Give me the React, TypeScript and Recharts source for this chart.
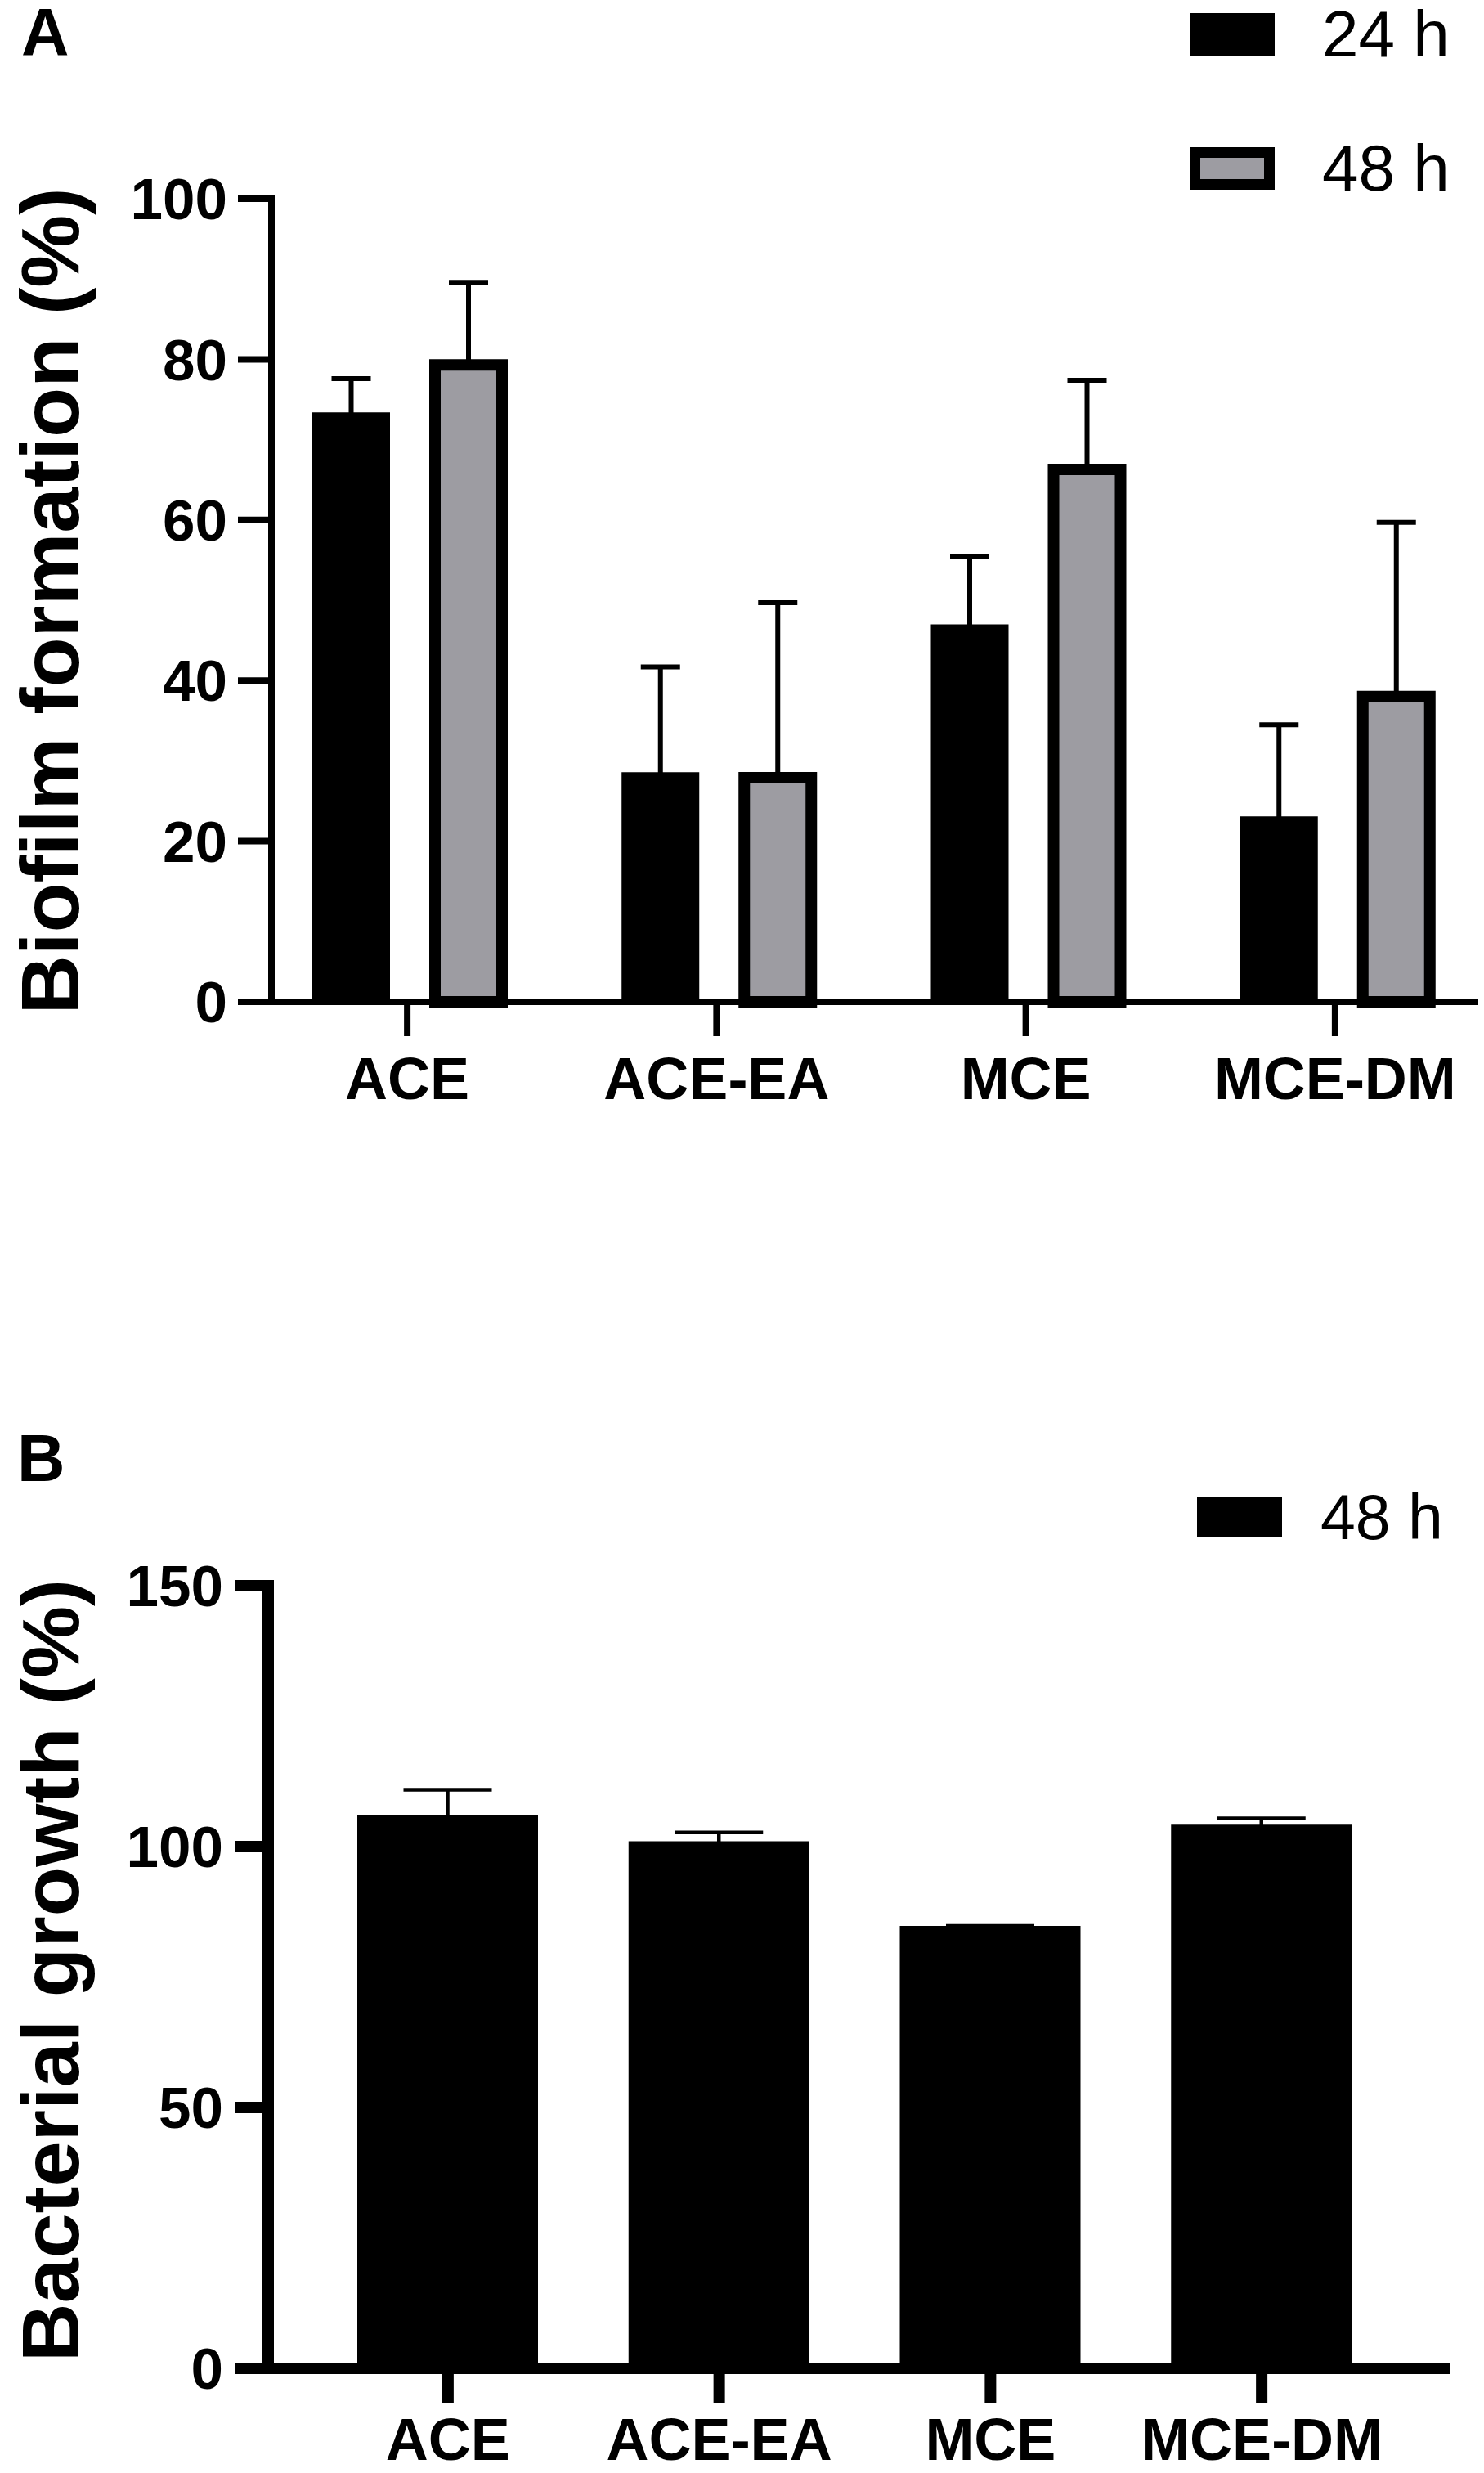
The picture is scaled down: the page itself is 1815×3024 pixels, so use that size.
import React from "react";
import { BarChart, Bar, XAxis, YAxis, ErrorBar, Legend } from "recharts";

const FONT = '"Liberation Sans", Arial, Helvetica, sans-serif';
const GRAY = "#9d9ca2";

// panel A - biofilm formation
const groups = ["ACE", "ACE-EA", "MCE", "MCE-DM"];
const biofilm24 = [73.4, 28.6, 47.0, 23.1];
const biofilm24Err = [4.2, 13.1, 8.5, 11.4];
const biofilm48 = [79.3, 27.9, 66.3, 38.0];
const biofilm48Err = [10.3, 21.8, 11.1, 21.7];
const biofilmTicks = [0, 20, 40, 60, 80, 100];

// panel B - bacterial growth
const growth48 = [106.0, 101.0, 84.8, 104.2];
const growth48Err = [4.9, 1.7, 0, 1.2];
const growthTicks = [0, 50, 100, 150];

// only the upper whisker is shown: [below, above]
// black bars start their whisker at the baseline so the hidden lower cap sits on the axis
const biofilmRows = groups.map((g, i) => ({
  group: g,
  h24: biofilm24[i],
  h24Err: [biofilm24[i], biofilm24Err[i]],
  h48: biofilm48[i],
  h48Err: [0, biofilm48Err[i]],
}));

const growthRows = groups.map((g, i) => ({
  group: g,
  h48: growth48[i],
  h48Err: [growth48[i], growth48Err[i]],
}));

function AxisTitle(props: any) {
  const { viewBox, text, baseX, shiftY, size } = props;
  const vb = viewBox || {};
  const cy = (vb.y ?? 0) + (vb.height ?? 0) / 2 + shiftY;
  return (
    <text
      x={baseX}
      y={cy}
      transform={`rotate(-90 ${baseX} ${cy})`}
      textAnchor="middle"
      fontFamily={FONT}
      fontWeight={700}
      fontSize={size}
      fill="#000"
    >
      {text}
    </text>
  );
}

const swatchLegend = (opts: any) => (props: any) => {
  const items = props.payload ?? [];
  return (
    <div style={{ display: "flex", flexDirection: "column", gap: opts.rowGap }}>
      {items.map((item: any) => {
        const p = item.payload ?? {};
        const outlined = p.stroke && p.stroke !== "none";
        return (
          <div key={item.value} style={{ display: "flex", alignItems: "center", height: opts.h }}>
            <div
              style={{
                width: opts.w,
                height: opts.h,
                boxSizing: "border-box",
                background: p.fill,
                border: outlined ? `${opts.border}px solid ${p.stroke}` : "none",
              }}
            />
            <span
              style={{
                marginLeft: opts.textGap,
                fontFamily: FONT,
                fontSize: opts.fontSize,
                lineHeight: 1,
                color: "#000",
                whiteSpace: "nowrap",
              }}
            >
              {item.value}
            </span>
          </div>
        );
      })}
    </div>
  );
};

function BiofilmChart() {
  const line = { stroke: "#000", strokeWidth: 8 };
  return (
    <BarChart
      width={1815}
      height={1400}
      data={biofilmRows}
      margin={{ top: 243, right: 7, bottom: 0, left: 0 }}
      barGap={55}
    >
      <XAxis
        dataKey="group"
        interval={0}
        height={175}
        padding={{ left: -23, right: -14 }}
        tickSize={42}
        tickMargin={26}
        axisLine={line}
        tickLine={line}
        tick={{ fontSize: 72, fontWeight: 700, fill: "#000", fontFamily: FONT }}
      />
      <YAxis
        type="number"
        domain={[0, 100]}
        ticks={biofilmTicks}
        interval={0}
        width={332}
        tickSize={41}
        tickMargin={13}
        axisLine={{ ...line, strokeLinecap: "square" }}
        tickLine={line}
        tick={{ fontSize: 71, fontWeight: 700, fill: "#000", fontFamily: FONT }}
        label={(p: any) => (
          <AxisTitle {...p} text="Biofilm formation (%)" baseX={96} shiftY={1} size={100} />
        )}
      />
      <Legend
        layout="vertical"
        align="center"
        verticalAlign="middle"
        wrapperStyle={{ left: 1455, top: 16, width: 360 }}
        content={swatchLegend({ w: 104, h: 52, rowGap: 112, border: 13, textGap: 58, fontSize: 80 })}
      />
      <Bar dataKey="h24" name="24 h" fill="#000" barSize={95} isAnimationActive={false}>
        <ErrorBar dataKey="h24Err" direction="y" width={24} stroke="#000" strokeWidth={6} />
      </Bar>
      <Bar
        dataKey="h48"
        name="48 h"
        fill={GRAY}
        stroke="#000"
        strokeWidth={14}
        barSize={82}
        isAnimationActive={false}
      >
        <ErrorBar dataKey="h48Err" direction="y" width={24} stroke="#000" strokeWidth={6} />
      </Bar>
    </BarChart>
  );
}

function GrowthChart() {
  const line = { stroke: "#000", strokeWidth: 14 };
  return (
    <BarChart
      width={1815}
      height={1324}
      data={growthRows}
      margin={{ top: 239, right: 41, bottom: 0, left: 0 }}
    >
      <XAxis
        dataKey="group"
        interval={0}
        height={128}
        padding={{ left: 54, right: 65 }}
        tickSize={42}
        tickMargin={19}
        axisLine={line}
        tickLine={line}
        tick={{ fontSize: 72, fontWeight: 700, fill: "#000", fontFamily: FONT }}
      />
      <YAxis
        type="number"
        domain={[0, 150]}
        ticks={growthTicks}
        interval={0}
        width={328}
        tickSize={41}
        tickMargin={14}
        axisLine={{ ...line, strokeLinecap: "square" }}
        tickLine={line}
        tick={{ fontSize: 71, fontWeight: 700, fill: "#000", fontFamily: FONT }}
        label={(p: any) => (
          <AxisTitle {...p} text="Bacterial growth (%)" baseX={96} shiftY={-8} size={99} />
        )}
      />
      <Legend
        layout="vertical"
        align="center"
        verticalAlign="middle"
        wrapperStyle={{ left: 1464, top: 131, width: 350 }}
        content={swatchLegend({ w: 104, h: 48, rowGap: 0, border: 0, textGap: 47, fontSize: 77 })}
      />
      <Bar dataKey="h48" name="48 h" fill="#000" barSize={221} isAnimationActive={false}>
        <ErrorBar dataKey="h48Err" direction="y" width={54} stroke="#000" strokeWidth={4.5} />
      </Bar>
    </BarChart>
  );
}

function PanelLetter({ letter, x, y }: { letter: string; x: number; y: number }) {
  return (
    <svg width={140} height={110} style={{ position: "absolute", left: 0, top: y - 80 }}>
      <text x={x} y={80} fontFamily={FONT} fontWeight={700} fontSize={81} fill="#000">
        {letter}
      </text>
    </svg>
  );
}

export default function App() {
  return (
    <div style={{ position: "absolute", left: 0, top: 0, width: 1815, height: 3024, background: "#fff" }}>
      <div style={{ position: "absolute", left: 0, top: 0 }}>
        <BiofilmChart />
      </div>
      <div style={{ position: "absolute", left: 0, top: 1700 }}>
        <GrowthChart />
      </div>
      <PanelLetter letter="A" x={26} y={67} />
      <PanelLetter letter="B" x={21} y={1811} />
    </div>
  );
}
